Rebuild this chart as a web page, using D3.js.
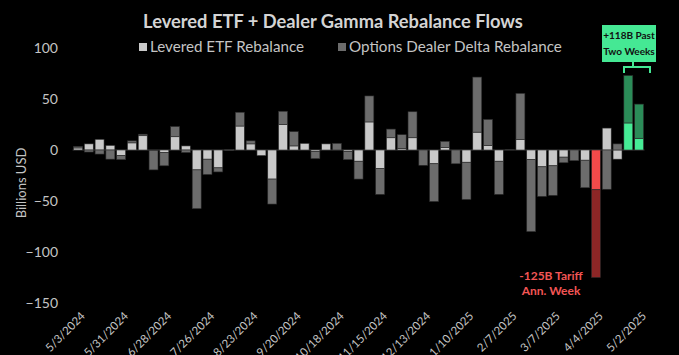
<!DOCTYPE html>
<html><head><meta charset="utf-8">
<script src="https://cdn.jsdelivr.net/npm/d3@7"></script>
<style>
html,body{margin:0;padding:0;background:#000;}
svg{display:block;}
text{font-family:Lato,"Open Sans",sans-serif;}
</style></head>
<body>
<svg id="chart" width="679" height="355"></svg>
<script>
const weeks = ["5/3/2024","5/10/2024","5/17/2024","5/24/2024","5/31/2024","6/7/2024","6/14/2024","6/21/2024","6/28/2024","7/5/2024","7/12/2024","7/19/2024","7/26/2024","8/2/2024","8/9/2024","8/16/2024","8/23/2024","8/30/2024","9/6/2024","9/13/2024","9/20/2024","9/27/2024","10/4/2024","10/11/2024","10/18/2024","10/25/2024","11/1/2024","11/8/2024","11/15/2024","11/22/2024","11/29/2024","12/6/2024","12/13/2024","12/20/2024","12/27/2024","1/3/2025","1/10/2025","1/17/2025","1/24/2025","1/31/2025","2/7/2025","2/14/2025","2/21/2025","2/28/2025","3/7/2025","3/14/2025","3/21/2025","3/28/2025","4/4/2025","4/11/2025","4/18/2025","4/25/2025","5/2/2025"];
const leveredETF = [2,6,10.5,4.5,-5.5,7,14,-0.5,-2.5,13,4,-19.5,-9,-17.5,0.5,23.5,6,-5.5,-28.5,25,4,6.5,-1.5,6,0,-1.5,-11,27.5,-18,12,1.5,12,0,-13.5,2.5,0,-12,17.5,4.5,-11,0,10.5,-9.5,-16.5,-15.5,-7,0,-10,-39,21.5,-9,26.5,11.5];
const dealerDelta = [1.5,-2,-4,-9,-4,2,1.5,-19,-13,10,-2.5,-38,-15,-4,-0.5,13.5,3,0,-24.5,13,14,0,-7,0,6.5,-8,-17.5,25.5,-25.5,8.5,13.5,25.5,-15,-37,6,-13.5,-36.5,54,25.5,-32.5,0.7,45,-70.5,-29,-29,-5.5,-10.5,-27,-86,-38.5,6,46.5,33.5];
const yTicks = [100,50,0,-50,-100,-150];
const tickWeeks = ["5/3/2024","5/31/2024","6/28/2024","7/26/2024","8/23/2024","9/20/2024","10/18/2024","11/15/2024","12/13/2024","1/10/2025","2/7/2025","3/7/2025","4/4/2025","5/2/2025"];
const seriesNames = ["Levered ETF Rebalance","Options Dealer Delta Rebalance"];
const tariffWeek = "4/4/2025";
const recentWeeks = ["4/25/2025","5/2/2025"];

const svg = d3.select("#chart");
const W = 679, H = 355;
svg.append("rect").attr("width",W).attr("height",H).attr("fill","#000");

const x = d3.scaleBand().domain(weeks).range([72.6, 644.5]).paddingInner(0.17).paddingOuter(0.085);
const y = d3.scaleLinear().domain([-150,100]).range([303,48]);

const rows = weeks.map((w,i)=>({week:w, etf:leveredETF[i], dealer:dealerDelta[i]}));
const stack = d3.stack().keys(["etf","dealer"]).offset(d3.stackOffsetDiverging);
const layers = stack(rows);

const palette = {
  gray:  ["#c9c9c9","#6c6c6c"],
  red:   ["#f24a4a","#8c2626"],
  green: ["#45ec95","#2b8c58"]
};
function colorFor(week, k){
  if (week===tariffWeek) return palette.red[k];
  if (recentWeeks.includes(week)) return palette.green[k];
  return palette.gray[k];
}

svg.append("line").attr("x1",x.range()[0]).attr("x2",x.range()[1])
  .attr("y1",y(0)).attr("y2",y(0)).attr("stroke","#3a3a3a").attr("stroke-width",1);

layers.forEach((layer,k)=>{
  svg.append("g").selectAll("rect").data(layer).join("rect")
    .attr("x",d=>x(d.data.week))
    .attr("width",x.bandwidth())
    .attr("y",d=>y(Math.max(d[0],d[1])))
    .attr("height",d=>Math.abs(y(d[0])-y(d[1])))
    .attr("fill",d=>colorFor(d.data.week,k))
    .attr("stroke","#2a2a2a").attr("stroke-width",0.6);
});

const yAxis = d3.axisLeft(y).tickValues(yTicks).tickSize(0).tickPadding(0).tickFormat(d3.format("d"));
const gy = svg.append("g").attr("transform","translate(58,0)").call(yAxis);
gy.select(".domain").remove();
gy.selectAll("text").attr("fill","#c4c4c4").style("font-size","14px").style("font-family","Lato,sans-serif");

svg.append("text").attr("transform","translate(26,183) rotate(-90)")
  .attr("text-anchor","middle").attr("fill","#c4c4c4").style("font-size","13px")
  .text("Billions USD");

const xAxis = d3.axisBottom(x).tickValues(tickWeeks).tickSize(0).tickPadding(0);
const gx = svg.append("g").attr("transform","translate(0,314)").call(xAxis);
gx.select(".domain").remove();
gx.selectAll("text").attr("fill","#c4c4c4").style("font-size","11.5px").style("font-family","Lato,sans-serif")
  .attr("text-anchor","end").attr("dy","0.35em")
  .attr("transform","translate(5,0) rotate(-45)").attr("y",0).attr("x",0);

svg.append("text").attr("x",333).attr("y",28).attr("text-anchor","middle")
  .attr("fill","#d4d4d4").style("font-size","18.3px").style("font-weight","bold")
  .text("Levered ETF + Dealer Gamma Rebalance Flows");

const legend = [{x:139,name:seriesNames[0],c:palette.gray[0]},{x:338,name:seriesNames[1],c:palette.gray[1]}];
legend.forEach(l=>{
  svg.append("rect").attr("x",l.x).attr("y",43).attr("width",8).attr("height",8).attr("fill",l.c);
  svg.append("text").attr("x",l.x+11).attr("y",52).attr("fill","#c4c4c4").style("font-size","15.2px").text(l.name);
});

svg.append("rect").attr("x",602).attr("y",25).attr("width",54).attr("height",37).attr("fill","#45e894");
svg.append("text").attr("x",629).attr("y",39).attr("text-anchor","middle").attr("fill","#111")
  .style("font-size","10px").style("font-weight","bold").text("+118B Past");
svg.append("text").attr("x",629).attr("y",55).attr("text-anchor","middle").attr("fill","#111")
  .style("font-size","10px").style("font-weight","bold").text("Two Weeks");
svg.append("path").attr("d","M633,62V67M624,73V67H650V73").attr("fill","none")
  .attr("stroke","#45e894").attr("stroke-width",2);

svg.append("text").attr("x",551).attr("y",280).attr("text-anchor","middle").attr("fill","#f25555")
  .style("font-size","12px").style("font-weight","bold").text("-125B Tariff");
svg.append("text").attr("x",551).attr("y",295).attr("text-anchor","middle").attr("fill","#f25555")
  .style("font-size","12px").style("font-weight","bold").text("Ann. Week");
</script>
</body></html>
